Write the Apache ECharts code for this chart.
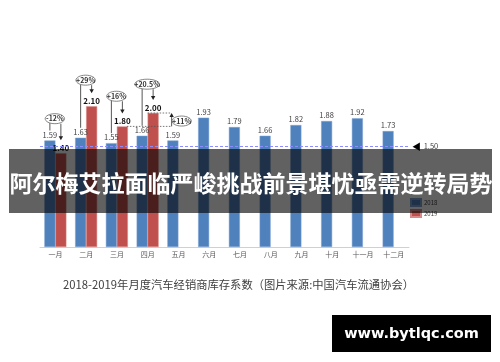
<!DOCTYPE html>
<html>
<head>
<meta charset="utf-8">
<script src="https://cdn.jsdelivr.net/npm/echarts@6/dist/echarts.min.js"></script>
<style>
html,body{margin:0;padding:0;background:#fff;}
#c{width:500px;height:362px;}
</style>
</head>
<body>
<div id="c"></div>
<script>
// ---- data ----
const months = ['一月','二月','三月','四月','五月','六月','七月','八月','九月','十月','十一月','十二月'];
const s2018 = [1.59,1.63,1.55,1.66,1.59,1.93,1.79,1.66,1.82,1.88,1.92,1.73];
const s2019 = [1.40,2.10,1.80,2.00,'-','-','-','-','-','-','-','-'];
const seriesNames = ['2018','2019'];
const refValue = 1.50;
const yoyLabels = ['-12%','+29%','+16%','+20.5%'];   // 2019 vs 2018, months 一月..四月
const momLabel = '+11%';                              // 2019 三月 -> 四月
const titleText = '阿尔梅艾拉面临严峻挑战前景堪忧亟需逆转局势';
const captionText = '2018-2019年月度汽车经销商库存系数（图片来源:中国汽车流通协会）';
const watermarkText = 'www.bytlqc.com';

// ---- layout (not data) ----
const annotLevels = [1.915, 2.49, 2.25, 2.43]; // vertical placement of the bubbles (axis units)
const momLevel = 1.88;
const BW = 11;
const FONT = '"Noto Sans CJK SC", "Noto Sans", sans-serif';

const chart = echarts.init(document.getElementById('c'), null, {renderer:'canvas'});

const option = {
  animation: false,
  backgroundColor: '#fff',
  textStyle: {fontFamily: FONT},
  grid: {left: 40, right: 91, top: 46, bottom: 115, containLabel: false},
  legend: {
    orient: 'vertical', left: 408, top: 196, itemWidth: 10, itemHeight: 7, itemGap: 2,
    icon: 'rect', padding: 2,
    textStyle: {fontSize: 6, color: '#404040', fontFamily: FONT, padding: [0,0,0,-2], lineHeight: 8},
    data: seriesNames
  },
  xAxis: {
    type: 'category', data: months,
    axisLine: {lineStyle: {color: '#d0d0d0', width: 1}},
    axisTick: {show: false},
    axisLabel: {fontSize: 7, color: '#595959', interval: 0, margin: 4, fontFamily: FONT}
  },
  yAxis: {
    type: 'value', min: 0, max: 3, show: false,
    splitLine: {show: false}
  },
  series: [
    {
      name: seriesNames[0], type: 'bar', data: s2018, barWidth: BW, barGap: '0%',
      itemStyle: {color: '#4f81bd', borderColor: '#7fa3d1', borderWidth: 0.5},
      label: {show: true, position: 'top', distance: 2, fontSize: 7.5, color: '#404040', fontFamily: FONT},
      markLine: {
        silent: true, symbol: ['none','none'],
        lineStyle: {color: '#8a8cff', type: [3,2], width: 1},
        label: {
          show: true, position: 'end', distance: 3,
          formatter: '{a|◀} {b|' + refValue.toFixed(2) + '}',
          rich: {a: {color: '#000', fontSize: 9}, b: {color: '#404040', fontSize: 7.5, fontFamily: FONT}}
        },
        data: [{yAxis: refValue}]
      }
    },
    {
      name: seriesNames[1], type: 'bar', data: s2019, barWidth: BW, barGap: '0%',
      itemStyle: {color: '#c0504d', borderColor: '#d88a88', borderWidth: 0.5},
      label: {show: true, position: 'top', distance: 1, fontSize: 8, fontWeight: 'bold', color: '#111',
              fontFamily: FONT, formatter: p => Number(p.value).toFixed(2)}
    }
  ]
};
chart.setOption(option);

function px(i, v) { return chart.convertToPixel({xAxisIndex: 0, yAxisIndex: 0}, [i, v]); }

const g = [];
const lineStyle = {stroke: '#444', lineWidth: 0.9};
function arrowHead(x, yTip, dir) { // dir 1 = down, -1 = up
  return {type: 'polygon', z: 50, shape: {points: [[x-2.2, yTip - dir*4], [x+2.2, yTip - dir*4], [x, yTip]]}, style: {fill: '#222'}};
}
function bubble(x, y, text) {
  const w = 9 + text.length * 2.6;
  g.push({type: 'ellipse', z: 51, shape: {cx: x, cy: y, rx: w/2, ry: 5}, style: {fill: '#fff', stroke: '#666', lineWidth: 0.8}});
  g.push({type: 'text', z: 52, x: x, y: y, style: {text: text, fontSize: 7, fontWeight: 'bold', fill: '#333',
          align: 'center', verticalAlign: 'middle', fontFamily: FONT}});
}

yoyLabels.forEach((t, i) => {
  const cx = px(i, 0)[0];
  const bx = cx - BW/2, rx = cx + BW/2;
  const blueTop = px(i, s2018[i])[1];
  const redTop = px(i, s2019[i])[1];
  const ey = px(i, annotLevels[i])[1];
  g.push({type: 'line', z: 50, shape: {x1: bx, y1: ey + 4, x2: bx, y2: blueTop - 10}, style: lineStyle});
  g.push({type: 'line', z: 50, shape: {x1: rx, y1: ey + 5, x2: rx, y2: redTop - 16}, style: lineStyle});
  g.push(arrowHead(rx, redTop - 13, 1));
  bubble(cx - 0.5, ey, t);
});

// month-on-month +11% (三月 -> 四月, 2019)
(function(){
  const c3 = px(2, 0)[0], c4 = px(3, 0)[0];
  const y18 = px(2, s2019[2])[1], y20 = px(3, s2019[3])[1];
  const ax = c4 + 24;
  const dot = {stroke: '#555', lineWidth: 0.8, lineDash: [1.5, 1.5]};
  g.push({type: 'line', z: 50, shape: {x1: c3 + BW - 1, y1: y18, x2: ax, y2: y18}, style: dot});
  g.push({type: 'line', z: 50, shape: {x1: c4, y1: y20, x2: ax, y2: y20}, style: dot});
  g.push({type: 'line', z: 50, shape: {x1: ax, y1: y18, x2: ax, y2: y20 + 3}, style: lineStyle});
  g.push(arrowHead(ax, y20, -1));
  bubble(ax + 10, px(4, momLevel)[1], momLabel);
})();

// overlay band + title
g.push({type: 'rect', z: 100, shape: {x: 9, y: 149, width: 483, height: 64}, style: {fill: 'rgba(0,0,0,0.62)'}});
g.push({type: 'text', z: 101, x: 251, y: 183, style: {text: titleText, fontSize: 23, fontWeight: 'bold', fill: '#fff',
        align: 'center', verticalAlign: 'middle', fontFamily: '"Noto Sans CJK SC", sans-serif'}});
// caption
g.push({type: 'text', z: 101, x: 238.5, y: 285, style: {text: captionText, fontSize: 11.3, fill: '#404040',
        align: 'center', verticalAlign: 'middle', fontFamily: '"Noto Sans CJK SC", sans-serif'}});
// watermark
g.push({type: 'rect', z: 101, shape: {x: 332, y: 315, width: 159, height: 37}, style: {fill: '#000'}});
g.push({type: 'text', z: 102, x: 411.5, y: 334, style: {text: watermarkText, fontSize: 14.5, fontWeight: 'bold', fill: '#fff',
        align: 'center', verticalAlign: 'middle', fontFamily: '"DejaVu Sans", sans-serif'}});

chart.setOption({graphic: {elements: g}});
</script>
</body>
</html>
